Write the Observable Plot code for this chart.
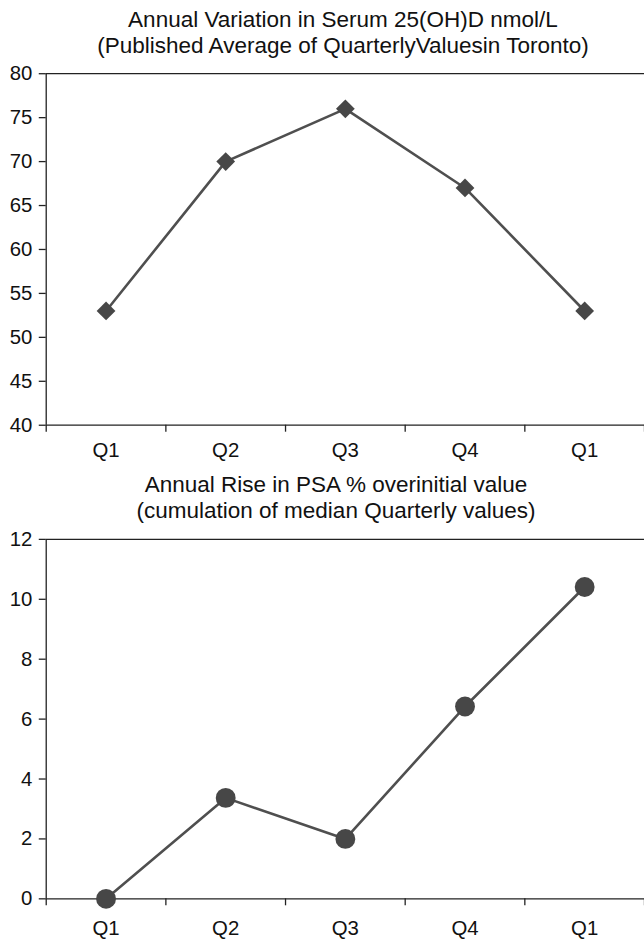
<!DOCTYPE html>
<html>
<head>
<meta charset="utf-8">
<script src="https://cdn.jsdelivr.net/npm/d3@7"></script>
<script src="https://cdn.jsdelivr.net/npm/@observablehq/plot@0.6"></script>
<style>
  html, body { margin: 0; padding: 0; background: #fff; overflow: hidden; width: 644px; height: 941px; }
  .title { position: absolute; left: 0; text-align: center; font-family: "Liberation Sans", Arial, sans-serif; font-size: 22.5px; line-height: 26px; color: #111; white-space: nowrap; }
  .panel { position: absolute; left: 0; }
</style>
</head>
<body>
<div class="title" style="top:6.5px; width:686px">Annual Variation in Serum 25(OH)D nmol/L<br>(Published Average of QuarterlyValuesin Toronto)</div>
<div class="panel" id="p1" style="top:60px"></div>
<div class="title" style="top:471.5px; width:672px">Annual Rise in PSA % overinitial value<br>(cumulation of median Quarterly values)</div>
<div class="panel" id="p2" style="top:520px"></div>
<script>
const quarters = ["Q1", "Q2", "Q3", "Q4", "Q1"];
const vitaminD = [53, 70, 76, 67, 53];
const psaRise = [0, 3.37, 2, 6.42, 10.41];
const vitTicks = [40, 45, 50, 55, 60, 65, 70, 75, 80];
const psaTicks = [0, 2, 4, 6, 8, 10, 12];

const ink = "#222";
const lineColor = "#4f4f4f";
const markColor = "#474747";

function panel(values, yTicks, symbol, r, height, marginTop, marginBottom, labelPad) {
  const data = values.map((v, i) => ({i: i + 0.5, v}));
  const yMin = yTicks[0], yMax = yTicks[yTicks.length - 1];
  return Plot.plot({
    width: 648,
    height,
    marginLeft: 46,
    marginRight: 0,
    marginTop,
    marginBottom,
    style: {fontFamily: "'Liberation Sans', Arial, sans-serif", fontSize: "20.5px", color: "#111", background: "transparent", overflow: "visible"},
    x: {type: "linear", domain: [0, quarters.length], axis: null},
    y: {domain: [yMin, yMax], axis: null},
    marks: [
      Plot.axisY({ticks: yTicks, tickSize: 7, tickPadding: 7, label: null, stroke: ink, strokeWidth: 1.3, fontSize: 20.5}),
      Plot.axisX({ticks: d3.range(quarters.length + 1), tickSize: 7, tickFormat: () => "", label: null, stroke: ink, strokeWidth: 1.3}),
      Plot.axisX({ticks: d3.range(quarters.length).map(i => i + 0.5), tickSize: 0, tickPadding: labelPad, tickFormat: d => quarters[Math.floor(d)], label: null, fontSize: 20.5}),
      Plot.ruleX([0], {stroke: ink, strokeWidth: 1.3}),
      Plot.ruleY([yMin], {stroke: ink, strokeWidth: 1.3}),
      Plot.ruleY([yMax], {stroke: ink, strokeWidth: 1.3}),
      Plot.line(data, {x: "i", y: "v", stroke: lineColor, strokeWidth: 2.6}),
      Plot.dot(data, {x: "i", y: "v", symbol, r, fill: markColor, stroke: "none"})
    ]
  });
}

document.getElementById("p1").append(panel(vitaminD, vitTicks, "diamond2", 8.5, 407, 13.3, 40, 17));
document.getElementById("p2").append(panel(psaRise, psaTicks, "circle", 10, 421, 19, 40.3, 22));
</script>
</body>
</html>
